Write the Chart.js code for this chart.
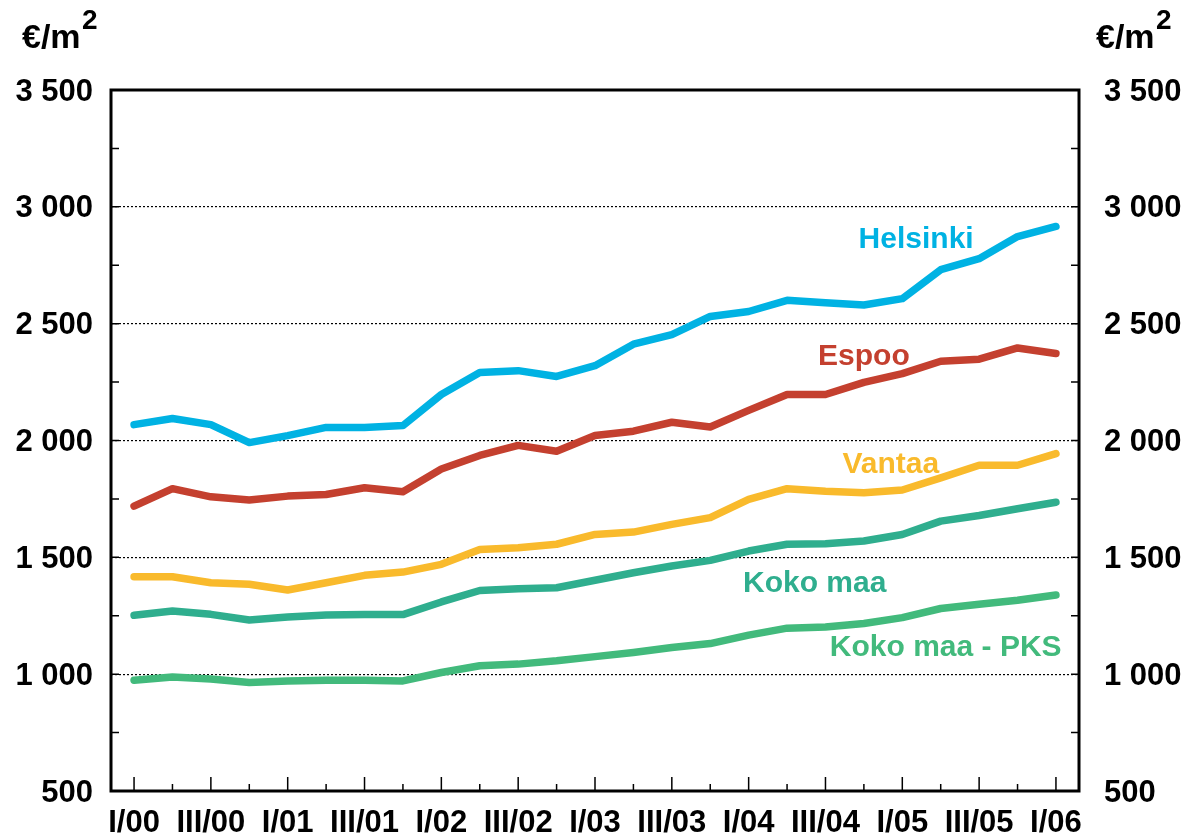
<!DOCTYPE html>
<html>
<head>
<meta charset="utf-8">
<script src="https://cdn.jsdelivr.net/npm/chart.js@4.4.1/dist/chart.umd.min.js"></script>
<style>
    html, body { margin: 0; padding: 0; background: #fff; }
    #wrap { position: relative; width: 1182px; height: 836px; }
    .unit, .sup {
        position: absolute;
        font-family: "Liberation Sans", Arial, sans-serif;
        font-weight: bold;
        color: #000;
        white-space: nowrap;
    }
    .unit { top: 19px; font-size: 34px; line-height: 34px; }
    .sup { top: 6px; font-size: 28px; line-height: 28px; }
</style>
</head>
<body>
<div id="wrap">
    <canvas id="chart" width="1182" height="836"></canvas>
    <div class="unit" style="left:22px">€/m</div><div class="sup" style="left:82px">2</div>
    <div class="unit" style="left:1096px">€/m</div><div class="sup" style="left:1156px">2</div>
</div>
<script>
// Quarterly labels, I/00 .. I/06 (only I and III are printed on the axis)
const tickLabels = ['I/00', 'III/00', 'I/01', 'III/01', 'I/02', 'III/02', 'I/03',
    'III/03', 'I/04', 'III/04', 'I/05', 'III/05', 'I/06'];

// Series names
const seriesNames = ['Helsinki', 'Espoo', 'Vantaa', 'Koko maa', 'Koko maa - PKS'];

// Price per square metre, one value per quarter (25 quarters)
const helsinki = [2068, 2094, 2068, 1991, 2021, 2056, 2056, 2064, 2197, 2291, 2299, 2274, 2320,
    2412, 2453, 2531, 2552, 2600, 2590, 2580, 2607, 2731, 2778, 2873, 2916];
const espoo = [1719, 1794, 1759, 1745, 1762, 1769, 1798, 1781, 1878, 1936, 1979, 1954, 2021,
    2040, 2078, 2058, 2129, 2197, 2197, 2249, 2286, 2339, 2348, 2396, 2372];
const vantaa = [1417, 1417, 1391, 1385, 1360, 1391, 1423, 1437, 1470, 1534, 1541, 1556, 1598,
    1608, 1641, 1670, 1748, 1794, 1783, 1776, 1788, 1840, 1894, 1894, 1944];
const kokoMaa = [1252, 1270, 1256, 1232, 1245, 1253, 1255, 1255, 1309, 1358, 1366, 1370, 1402,
    1434, 1463, 1487, 1527, 1556, 1558, 1570, 1598, 1655, 1679, 1708, 1736];
const kokoMaaPks = [974, 988, 979, 964, 971, 974, 974, 971, 1007, 1036, 1043, 1057, 1075,
    1093, 1114, 1131, 1167, 1197, 1202, 1217, 1242, 1281, 1299, 1316, 1339];

const seriesColors = ['#00b2e3', '#c4402f', '#f9ba2c', '#2fae8e', '#42ba7c'];

// Where each series name is written (x in quarters, y in €/m2)
const labelAnchors = [[20.36, 2860], [19.0, 2360], [19.7, 1897], [17.72, 1385], [21.13, 1114]];

const FONT = '"Liberation Sans", Arial, sans-serif';

function toPoints(values) {
    return values.map((v, i) => ({ x: i, y: v }));
}

function formatThousands(v) {
    if (v >= 1000) {
        return Math.floor(v / 1000) + ' ' + String(v % 1000).padStart(3, '0');
    }
    return String(v);
}

function yTicks(scale) {
    const ticks = [];
    for (let v = 500; v <= 3500; v += 250) ticks.push({ value: v });
    scale.ticks = ticks;
}

/**
 * Frame, inward tick marks and the series labels
 */
const frameAndLabels = {
    id: 'frameAndLabels',
    afterDraw(chart) {
        const { ctx, chartArea: a, scales } = chart;
        ctx.save();
        ctx.strokeStyle = '#000';
        ctx.lineWidth = 1.5;
        ctx.beginPath();
        scales.y.ticks.forEach(t => {
            const py = scales.y.getPixelForValue(t.value);
            ctx.moveTo(a.left, py);
            ctx.lineTo(a.left + 8, py);
            ctx.moveTo(a.right - 8, py);
            ctx.lineTo(a.right, py);
        });
        scales.x.ticks.forEach(t => {
            const px = scales.x.getPixelForValue(t.value);
            const len = t.value % 2 === 0 ? 14 : 7;
            ctx.moveTo(px, a.bottom);
            ctx.lineTo(px, a.bottom - len);
        });
        ctx.stroke();

        ctx.lineWidth = 3;
        ctx.strokeRect(a.left, a.top, a.right - a.left, a.bottom - a.top);

        ctx.font = 'bold 30px ' + FONT;
        ctx.textAlign = 'center';
        ctx.textBaseline = 'middle';
        seriesNames.forEach((name, i) => {
            ctx.fillStyle = seriesColors[i];
            ctx.fillText(name,
                scales.x.getPixelForValue(labelAnchors[i][0]),
                scales.y.getPixelForValue(labelAnchors[i][1]));
        });
        ctx.restore();
    }
};

const seriesData = [helsinki, espoo, vantaa, kokoMaa, kokoMaaPks];

new Chart(document.getElementById('chart'), {
    type: 'line',
    data: {
        datasets: seriesData.map((values, i) => ({
            label: seriesNames[i],
            data: toPoints(values),
            borderColor: seriesColors[i],
            borderWidth: 7.5,
            pointRadius: 0,
            tension: 0,
            borderCapStyle: 'round',
            borderJoinStyle: 'round',
            yAxisID: 'y'
        }))
    },
    options: {
        responsive: false,
        animation: false,
        layout: { padding: { top: 90, left: 0, right: 0, bottom: 0 } },
        plugins: {
            legend: { display: false },
            tooltip: { enabled: false }
        },
        scales: {
            x: {
                type: 'linear',
                min: -0.6,
                max: 24.6,
                afterBuildTicks: scale => {
                    scale.ticks = tickLabels.flatMap((_, i) => i < 12 ? [{ value: 2 * i }, { value: 2 * i + 1 }] : [{ value: 2 * i }]);
                },
                afterFit: scale => { scale.height = 45; },
                grid: { display: false },
                border: { display: false },
                ticks: {
                    autoSkip: false,
                    maxRotation: 0,
                    padding: 6,
                    color: '#000',
                    font: { family: FONT, size: 31, weight: 'bold' },
                    callback: v => (v % 2 === 0 ? tickLabels[v / 2] : '')
                }
            },
            y: {
                position: 'left',
                min: 500,
                max: 3500,
                afterBuildTicks: yTicks,
                afterFit: scale => { scale.width = 111; },
                grid: {
                    drawTicks: false,
                    lineWidth: 1.2,
                    color: c => {
                        const v = c.tick ? c.tick.value : 0;
                        return (v % 500 === 0 && v > 500 && v < 3500) ? '#000' : 'rgba(0,0,0,0)';
                    }
                },
                border: { display: false, dash: [2, 2] },
                ticks: {
                    padding: 18,
                    labelOffset: 2,
                    color: '#000',
                    font: { family: FONT, size: 31, weight: 'bold' },
                    callback: v => (v % 500 === 0 ? formatThousands(v) : '')
                }
            },
            y2: {
                position: 'right',
                min: 500,
                max: 3500,
                afterBuildTicks: yTicks,
                afterFit: scale => { scale.width = 103; },
                grid: { display: false },
                border: { display: false },
                ticks: {
                    padding: 17,
                    labelOffset: 2,
                    color: '#000',
                    font: { family: FONT, size: 31, weight: 'bold' },
                    callback: v => (v % 500 === 0 ? formatThousands(v) : '')
                }
            }
        }
    },
    plugins: [frameAndLabels]
});
</script>
</body>
</html>
